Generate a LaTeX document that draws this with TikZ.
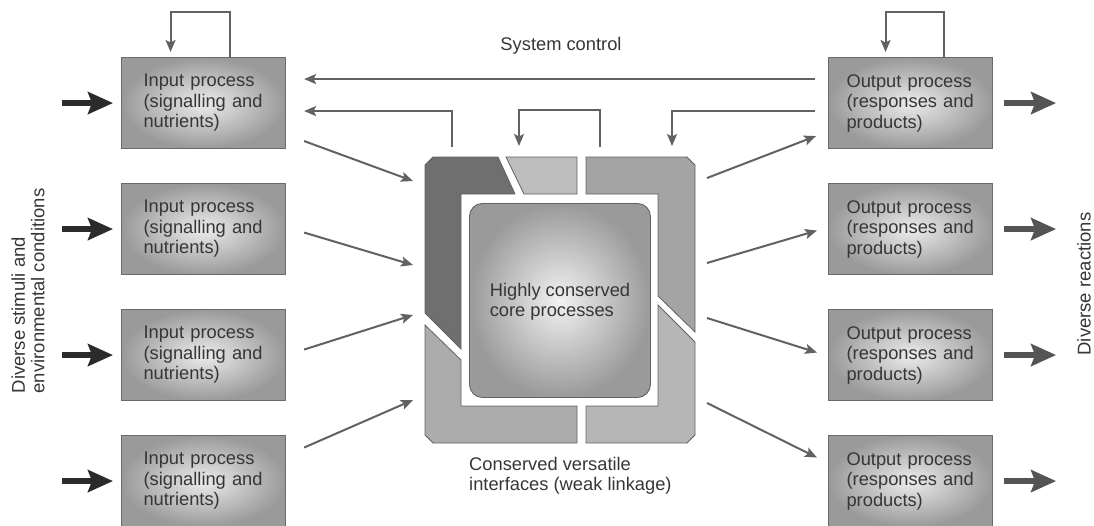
\documentclass[tikz,border=0pt]{standalone}
\usepackage{fontspec}
\setmainfont{Liberation Sans}
\usetikzlibrary{arrows.meta,calc}
\definecolor{ln}{HTML}{626262}
\definecolor{txt}{HTML}{363636}
\definecolor{boxedge}{HTML}{6a6a6a}
\definecolor{boxin}{HTML}{ececec}
\definecolor{boxout}{HTML}{9a9a9a}
\definecolor{pA}{HTML}{6f6f6f}
\definecolor{pB}{HTML}{bdbdbd}
\definecolor{pC}{HTML}{a4a4a4}
\definecolor{pD}{HTML}{b6b6b6}
\definecolor{pE}{HTML}{acacac}
\begin{document}
\begin{tikzpicture}[x=1pt,y=-1pt,
  lbl/.style={text=txt,font=\fontsize{18.3}{20.5}\selectfont,align=left,inner sep=0pt},
  box/.style={draw=boxedge,line width=1.1pt,shading=radial,inner color=boxin,outer color=boxout,
    minimum width=164pt,minimum height=91pt,anchor=north west,align=left,
    font=\fontsize{18.3}{20.5}\selectfont,text=txt,inner ysep=0pt},
  inbox/.style={box,inner xsep=22pt,text width=120pt},
  outbox/.style={box,inner xsep=18pt,text width=128pt},
  thinarrow/.style={draw=ln,line width=2pt,-{Stealth[length=12pt,width=10pt,inset=2.5pt]}},
  thinline/.style={draw=ln,line width=2pt},
  thickarrow/.style={line width=6pt,-{Stealth[length=25pt,width=22pt,inset=4pt]}},
  piece/.style={draw=ln,line width=0.8pt,line join=miter}
]
\useasboundingbox (0,0) rectangle (1094,525);

% input boxes
\node[inbox] (in1) at (121,57)  {Input process\\(signalling and\\nutrients)};
\node[inbox] (in2) at (121,183) {Input process\\(signalling and\\nutrients)};
\node[inbox] (in3) at (121,309) {Input process\\(signalling and\\nutrients)};
\node[inbox] (in4) at (121,435) {Input process\\(signalling and\\nutrients)};
% output boxes
\node[outbox] (out1) at (828,57)  {Output process\\(responses and\\products)};
\node[outbox] (out2) at (828,183) {Output process\\(responses and\\products)};
\node[outbox] (out3) at (828,309) {Output process\\(responses and\\products)};
\node[outbox] (out4) at (828,435) {Output process\\(responses and\\products)};

% central interface pieces
\filldraw[piece,fill=pA] (433,157) -- (498,157) -- (515,194) -- (461,194) -- (461,349) -- (425,313) -- (425,165) -- cycle;
\filldraw[piece,fill=pB] (506,157) -- (577,157) -- (577,194) -- (524,194) -- cycle;
\filldraw[piece,fill=pC] (586,157) -- (687,157) -- (695,165) -- (695,332) -- (658,296) -- (658,194) -- (586,194) -- cycle;
\filldraw[piece,fill=pD] (695,342) -- (695,435) -- (687,443) -- (586,443) -- (586,406) -- (658,406) -- (658,305) -- cycle;
\filldraw[piece,fill=pE] (425,325) -- (461,360) -- (461,406) -- (577,406) -- (577,443) -- (433,443) -- (425,435) -- cycle;

% core
\node[draw=ln,line width=0.9pt,rounded corners=13pt,shading=radial,inner color=white!95!black,outer color=boxout,
  minimum width=181pt,minimum height=194pt,anchor=north west] (core) at (469,203) {};
\node[lbl] (coretxt) at (560,302) {Highly conserved\\core processes};

% frame anchor coordinates
\coordinate (ci1) at (413,181);
\coordinate (ci2) at (413,265);
\coordinate (ci3) at (413,315);
\coordinate (ci4) at (413,400);
\coordinate (co1) at (707,178);
\coordinate (co2) at (707,263);
\coordinate (co3) at (707,318);
\coordinate (co4) at (707,403);
\coordinate (fa) at (452,147);
\coordinate (fb) at (519,146);
\coordinate (fc) at (600,147);
\coordinate (fd) at (672,146);

% input -> core
\draw[thinarrow] ($(in1.east)+(18,38)$) -- (ci1);
\draw[thinarrow] ($(in2.east)+(18,3.5)$) -- (ci2);
\draw[thinarrow] ($(in3.east)+(18,-5.5)$) -- (ci3);
\draw[thinarrow] ($(in4.east)+(18,-33.5)$) -- (ci4);
% core -> output
\draw[thinarrow] (co1) -- ($(out1.west)+(-12,33)$);
\draw[thinarrow] (co2) -- ($(out2.west)+(-11,1.5)$);
\draw[thinarrow] (co3) -- ($(out3.west)+(-11,-2.5)$);
\draw[thinarrow] (co4) -- ($(out4.west)+(-11,-23.5)$);

% system control
\draw[thinarrow] ($(out1.west)+(-13,-24)$) -- ($(in1.east)+(18,-24)$);
\node[lbl] (sysc) at (561,46) {System control};
\draw[thinarrow] ($(out1.west)+(-13,8)$) -| (fd);
\draw[thinarrow] (fa) |- ($(in1.east)+(18,8)$);
\draw[thinarrow] (fc) -- (600,110) -| (fb);

% self loops
\draw[thinarrow] ($(in1.north)+(26,0)$) -- ++(0,-45) -| ($(in1.north)+(-33,-5)$);
\draw[thinarrow] ($(out1.north)+(33,0)$) -- ++(0,-45) -| ($(out1.north)+(-25,-5)$);

% thick arrows
\foreach \n in {1,2,3,4}{
  \draw[thickarrow,draw=black!83] ($(in\n.west)+(-59,0)$) -- ($(in\n.west)+(-8,0)$);
  \draw[thickarrow,draw=black!67] ($(out\n.east)+(11,0)$) -- ($(out\n.east)+(63,0)$);
}

% labels
\node[lbl,anchor=north west] (iface) at (469,457) {Conserved versatile\\interfaces (weak linkage)};
\node[lbl,rotate=90,font=\fontsize{18.5}{19.5}\selectfont] (stim) at (28,291) {Diverse stimuli and\\environmental conditions};
\node[lbl,rotate=90,font=\fontsize{18.5}{19.5}\selectfont] (react) at (1084,284) {Diverse reactions};
\end{tikzpicture}
\end{document}
